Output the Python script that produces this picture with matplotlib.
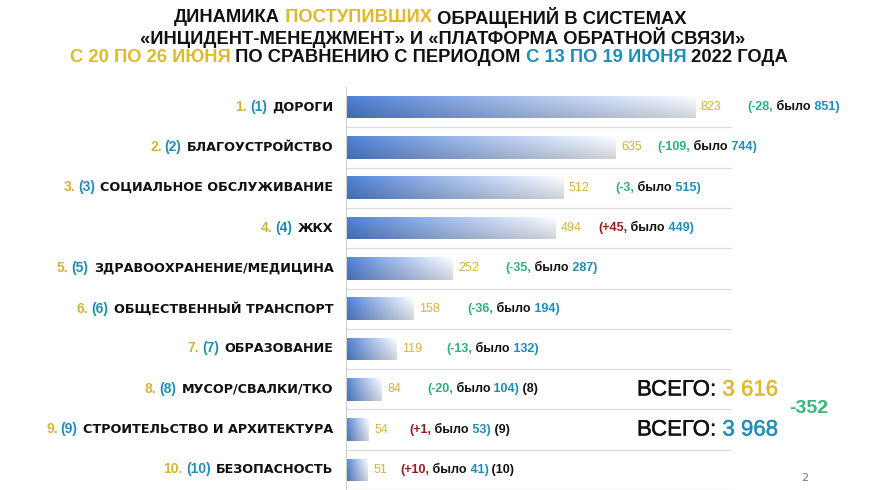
import numpy as np
import matplotlib.pyplot as plt
import matplotlib.patheffects as pe
from matplotlib.colors import to_rgb

# ------------------------------------
# Data
# ------------------------------------

categories = [
    "ДОРОГИ",
    "БЛАГОУСТРОЙСТВО",
    "СОЦИАЛЬНОЕ ОБСЛУЖИВАНИЕ",
    "ЖКХ",
    "ЗДРАВООХРАНЕНИЕ/МЕДИЦИНА",
    "ОБЩЕСТВЕННЫЙ ТРАНСПОРТ",
    "ОБРАЗОВАНИЕ",
    "МУСОР/СВАЛКИ/ТКО",
    "СТРОИТЕЛЬСТВО И АРХИТЕКТУРА",
    "БЕЗОПАСНОСТЬ",
]
rank_now = [1, 2, 3, 4, 5, 6, 7, 8, 9, 10]
rank_prev = [1, 2, 3, 4, 5, 6, 7, 8, 9, 10]
current = [823, 635, 512, 494, 252, 158, 119, 84, 54, 51]
previous = [851, 744, 515, 449, 287, 194, 132, 104, 53, 41]
trail_rank = [False, False, False, False, False, False, False, True, True, True]

total_now = "3 616"
total_prev = "3 968"
total_diff = "-352"

# gap (px) between value label and change label, per row
gap_px = [26, 16, 26, 16, 26, 28, 24, 26, 21, 13]

YELLOW = "#d6b43a"
TITLE_YELLOW = "#e0b82c"
TEAL = "#1f8db5"
GREEN = "#2fae80"
RED = "#9b1c1c"

W, H = 875, 490
BOLD = ["Liberation Sans", "DejaVu Sans"]
WIDE = ["DejaVu Sans"]
NARROW = ["Liberation Sans Narrow", "Liberation Sans", "DejaVu Sans"]

fig = plt.figure(figsize=(W / 100, H / 100), dpi=100)
fig.patch.set_facecolor("white")
renderer = fig.canvas.get_renderer()

# ------------------------------------
# Title
# ------------------------------------

def fig_rainbow(xc, y, pieces, **kw):
    texts = [fig.text(0, 1 - y / H, s, color=c, va="center", **kw) for s, c in pieces]
    widths = [t.get_window_extent(renderer).width for t in texts]
    x = xc - sum(widths) / 2
    for t, w in zip(texts, widths):
        t.set_x(x / W)
        x += w

title_kw = dict(fontsize=13.2, fontweight="bold", family=BOLD)
fig_rainbow(430, 17, [("ДИНАМИКА", "#111111"), (" ПОСТУПИВШИХ", TITLE_YELLOW),
                      (" ОБРАЩЕНИЙ В СИСТЕМАХ", "#111111")], **title_kw)
fig_rainbow(443, 37, [("«ИНЦИДЕНТ-МЕНЕДЖМЕНТ» И «ПЛАТФОРМА ОБРАТНОЙ СВЯЗИ»", "#111111")], **title_kw)
fig_rainbow(429, 57, [("С 20 ПО 26 ИЮНЯ", TITLE_YELLOW), (" ПО СРАВНЕНИЮ С ПЕРИОДОМ", "#111111"),
                      (" С 13 ПО 19 ИЮНЯ", TEAL), (" 2022 ГОДА", "#111111")], **title_kw)

# ------------------------------------
# Bars
# ------------------------------------

ax = fig.add_axes([346 / W, 0, (732 - 346) / W, 1 - 87 / H])
y = np.arange(len(categories))
bar_h = 0.56

bars = ax.barh(y, current, height=bar_h, color="none", edgecolor="none")

left = np.array(to_rgb("#4a7bcf"))
right = np.array(to_rgb("#f2f5fb"))
t = np.linspace(0, 1, 200) ** 0.9
row = left[None, :] * (1 - t[:, None]) + right[None, :] * t[:, None]
shade = np.linspace(1.04, 0.86, 30)
grad = np.clip(row[None, :, :] * shade[:, None, None], 0, 1)

for rect, v, yi in zip(bars, current, y):
    im = ax.imshow(grad, extent=(0, v, yi + bar_h / 2, yi - bar_h / 2),
                   aspect="auto", origin="upper", zorder=2, interpolation="bilinear")
    im.set_clip_path(rect)

ax.set_xlim(0, 910)
ax.set_ylim(len(categories) - 0.5, -0.5)

for b in np.arange(len(categories)) + 0.5:
    ax.axhline(b, color="#dcdcdc", lw=0.9, zorder=1)

for s in ["top", "right", "bottom"]:
    ax.spines[s].set_visible(False)
ax.spines["left"].set_color("#d0d0d0")
ax.set_xticks([])
ax.set_yticks([])

# ------------------------------------
# Labels
# ------------------------------------

for i in range(len(categories)):
    # category name, with ranks before it
    name = ax.annotate(categories[i], xy=(0, y[i]), xycoords=("axes fraction", "data"),
                       xytext=(-9, 0), textcoords="offset points", ha="right", va="center",
                       fontsize=9.2, fontweight="bold", family=WIDE, color="#111111")
    prev = ax.annotate(f"({rank_prev[i]})", xy=(0, 0), xycoords=name,
                       xytext=(-4, 0), textcoords="offset points", ha="right", va="bottom",
                       fontsize=10, fontweight="bold", family=NARROW, color=TEAL)
    ax.annotate(f"{rank_now[i]}.", xy=(0, 0), xycoords=prev,
                xytext=(-2, 0), textcoords="offset points", ha="right", va="bottom",
                fontsize=10, fontweight="bold", family=NARROW, color=YELLOW)

    # value and change
    val = ax.annotate(str(current[i]), xy=(current[i], y[i]), xytext=(4, 0),
                      textcoords="offset points", ha="left", va="center",
                      fontsize=9, family=NARROW, color=YELLOW)
    diff = current[i] - previous[i]
    pieces = [(f"({diff:+d},", GREEN if diff < 0 else RED),
              (" было", "#111111"),
              (f" {previous[i]})", TEAL)]
    if trail_rank[i]:
        pieces.append((f" ({rank_prev[i]})", "#111111"))
    anchor = val
    off = gap_px[i] * 0.72
    for s, c in pieces:
        anchor = ax.annotate(s, xy=(1, 0), xycoords=anchor, xytext=(off, 0),
                             textcoords="offset points", ha="left", va="bottom",
                             fontsize=9, fontweight="bold", family=NARROW, color=c)
        off = 0

# ------------------------------------
# Totals
# ------------------------------------

def fig_left(x, y, pieces, **kw):
    for s, c in pieces:
        tx = fig.text(x / W, 1 - y / H, s, color=c, va="center",
                      path_effects=[pe.withStroke(linewidth=0.3, foreground=c)], **kw)
        x += tx.get_window_extent(renderer).width

fig_left(637, 390, [("ВСЕГО:", "#111111"), (" " + total_now, TITLE_YELLOW)],
         fontsize=16, family=BOLD)
fig_left(637, 430, [("ВСЕГО:", "#111111"), (" " + total_prev, TEAL)],
         fontsize=16, family=BOLD)
fig.text(789 / W, 1 - 408 / H, total_diff, color="#35b878", va="center", ha="left",
         fontsize=14, fontweight="bold", family=BOLD)

fig.text(805 / W, 1 - 478 / H, "2", color="#777777", va="center", ha="center", fontsize=8)

fig.savefig("out.png", dpi=100, facecolor="white")
